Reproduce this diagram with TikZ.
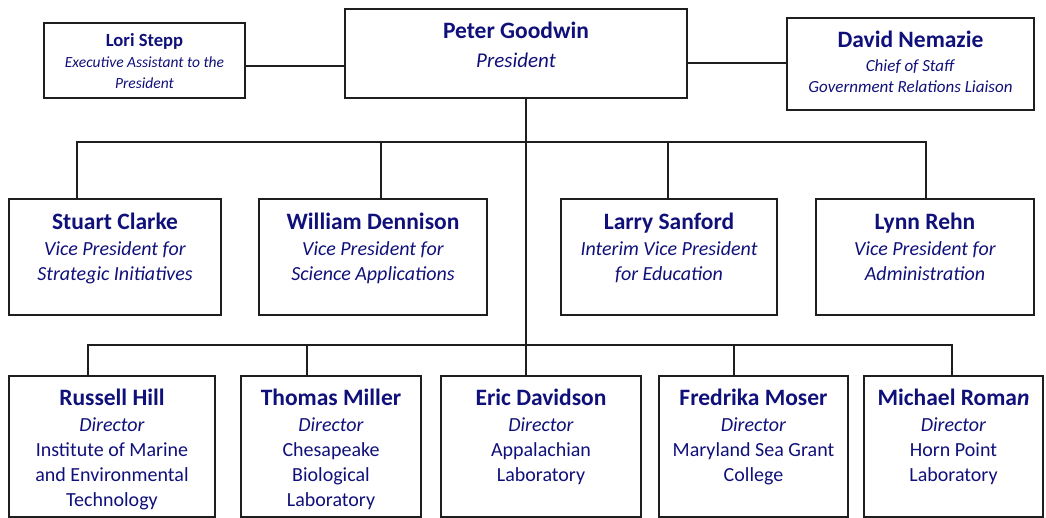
\documentclass[tikz,border=0pt]{standalone}
\usepackage{fontspec}
\setmainfont{Carlito}
\definecolor{navy}{RGB}{16,16,122}
\definecolor{edge}{RGB}{30,30,30}
\tikzset{
  box/.style={draw=edge, line width=1.6pt, rectangle, inner sep=0pt, outer sep=0pt},
  conn/.style={draw=edge, line width=1.6pt},
  txt/.style={text=navy, align=center, inner sep=0pt, anchor=north, font=\fontsize{20}{25}\selectfont},
  txtsmall/.style={txt, font=\fontsize{15.5}{21}\selectfont},
  txtmid/.style={txt, font=\fontsize{17}{21}\selectfont},
}
\newcommand\nm[1]{{\fontsize{23.5}{25}\selectfont\bfseries #1}}
\newcommand\nms[1]{{\fontsize{18.6}{21}\selectfont\bfseries #1}}
\newcommand\obox[5]{\node[box, minimum width={(#4-#2)*1pt}, minimum height={(#5-#3)*1pt}] (#1) at ({(#2+#4)/2},{(#3+#5)/2}) {};}
\begin{document}
\begin{tikzpicture}[x=1pt,y=-1pt]
\useasboundingbox (0,0) rectangle (1046,518);
% boxes
\obox{pg}{345}{9}{687}{98}
\obox{ls}{44}{23}{245}{98}
\obox{dn}{787}{18}{1034}{110}
\obox{sc}{9}{199}{221}{315}
\obox{wd}{259}{199}{487}{315}
\obox{lsf}{561}{199}{777}{315}
\obox{lr}{816}{199}{1034}{315}
\obox{rh}{9}{376}{215}{517}
\obox{tm}{241}{376}{421}{517}
\obox{ed}{441}{376}{641}{517}
\obox{fm}{659}{376}{848}{517}
\obox{mr}{864}{376}{1043}{517}
% texts
\node[txt] (pgt) at (516,22) {\nm{Peter Goodwin}\\[4pt]{\fontsize{21}{25}\selectfont\itshape President}};
\node[txtsmall] (lst) at (144.5,33.5) {\nms{Lori Stepp}\\\textit{Executive Assistant to the}\\\textit{President}};
\node[txtmid] (dnt) at (910.5,30.5) {\nm{David Nemazie}\\[3.5pt]\textit{Chief of Staff}\\\textit{Government Relations Liaison}};
\node[txt] (sct) at (115,212.5) {\nm{Stuart Clarke}\\[1pt]\textit{Vice President for}\\\textit{Strategic Initiatives}};
\node[txt] (wdt) at (373,212.5) {\nm{William Dennison}\\[1pt]\textit{Vice President for}\\\textit{Science Applications}};
\node[txt] (lsft) at (669,212.5) {\nm{Larry Sanford}\\[1pt]\textit{Interim Vice President}\\\textit{for Education}};
\node[txt] (lrt) at (925,212.5) {\nm{Lynn Rehn}\\[1pt]\textit{Vice President for}\\\textit{Administration}};
\node[txt] (rht) at (112,388.5) {\nm{Russell Hill}\\[1.5pt]\textit{Director}\\Institute of Marine\\and Environmental\\Technology};
\node[txt] (tmt) at (331,388.5) {\nm{Thomas Miller}\\[1.5pt]\textit{Director}\\Chesapeake\\Biological\\Laboratory};
\node[txt] (edt) at (541,388.5) {\nm{Eric Davidson}\\[1.5pt]\textit{Director}\\Appalachian\\Laboratory};
\node[txt] (fmt) at (753.5,388.5) {\nm{Fredrika Moser}\\[1.5pt]\textit{Director}\\Maryland Sea Grant\\College};
\node[txt] (mrt) at (953.5,388.5) {\nm{Michael Roma\textit{n}}\\[1.5pt]\textit{Director}\\Horn Point\\Laboratory};
% junction coordinates
\coordinate (lp) at (245,66);
\coordinate (pd) at (687,63);
\coordinate (vpbus) at (526,142);
\coordinate (dbus) at (526,345);
\coordinate (top) at (526,98);
\coordinate (d1) at (77,199);
\coordinate (d2) at (381,199);
\coordinate (d3) at (668,199);
\coordinate (d4) at (926,199);
\coordinate (e1) at (88,376);
\coordinate (e2) at (307,376);
\coordinate (e3) at (526,376);
\coordinate (e4) at (734,376);
\coordinate (e5) at (952,376);
% connectors
\draw[conn] (lp) -- (lp -| pg.west);
\draw[conn] (pd) -- (pd -| dn.west);
\draw[conn] (top) -- (e3);
\draw[conn] (d1) -- (d1 |- vpbus) -- (d4 |- vpbus) -- (d4);
\draw[conn] (d2) -- (d2 |- vpbus);
\draw[conn] (d3) -- (d3 |- vpbus);
\draw[conn] (e1) -- (e1 |- dbus) -- (e5 |- dbus) -- (e5);
\draw[conn] (e2) -- (e2 |- dbus);
\draw[conn] (e4) -- (e4 |- dbus);
\end{tikzpicture}
\end{document}
